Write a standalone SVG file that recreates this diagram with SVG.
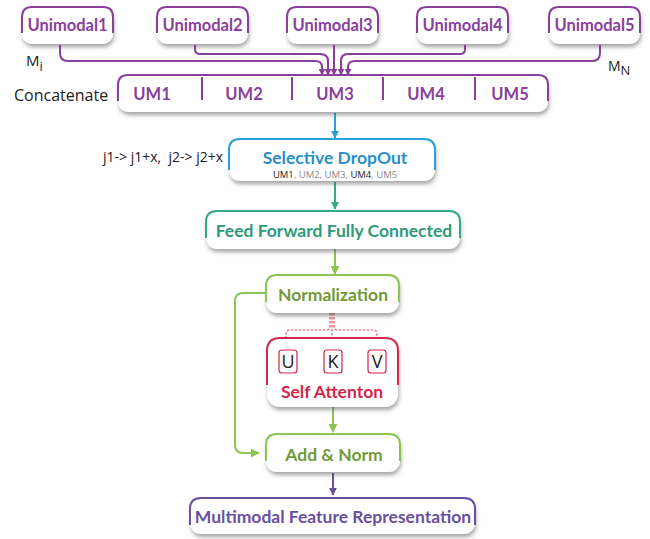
<svg xmlns="http://www.w3.org/2000/svg" width="650" height="539" viewBox="0 0 650 539">
<defs>
<filter id="sh" x="-10%" y="-20%" width="120%" height="150%">
<feDropShadow dx="1" dy="3" stdDeviation="2" flood-color="#555" flood-opacity="0.55"/>
</filter>
<marker id="aP" viewBox="0 0 10 10" refX="9" refY="5" markerWidth="7" markerHeight="7" markerUnits="userSpaceOnUse" orient="auto"><path d="M0,0 L10,5 L0,10 z" fill="#8a3f9c"/></marker>
<marker id="aB" viewBox="0 0 10 10" refX="9" refY="5" markerWidth="8" markerHeight="8" markerUnits="userSpaceOnUse" orient="auto"><path d="M0,0 L10,5 L0,10 z" fill="#2b9fd8"/></marker>
<marker id="aT" viewBox="0 0 10 10" refX="9" refY="5" markerWidth="8" markerHeight="8" markerUnits="userSpaceOnUse" orient="auto"><path d="M0,0 L10,5 L0,10 z" fill="#33a98a"/></marker>
<marker id="aG" viewBox="0 0 10 10" refX="9" refY="5" markerWidth="9" markerHeight="9" markerUnits="userSpaceOnUse" orient="auto"><path d="M0,0 L10,5 L0,10 z" fill="#8cc552"/></marker>
<marker id="aR" viewBox="0 0 10 10" refX="9" refY="5" markerWidth="6" markerHeight="6" markerUnits="userSpaceOnUse" orient="auto"><path d="M0,0 L10,5 L0,10 z" fill="#e8545e"/></marker>
<marker id="aV" viewBox="0 0 10 10" refX="9" refY="5" markerWidth="8" markerHeight="8" markerUnits="userSpaceOnUse" orient="auto"><path d="M0,0 L10,5 L0,10 z" fill="#6a4f9f"/></marker>
</defs>
<style>
.bx{fill:#fff;filter:url(#sh)}
.ol{fill:none;stroke-width:2}
.t{font-family:Lato,"Open Sans",sans-serif;font-weight:bold;text-anchor:middle}
.p{stroke:#8a3f9c}
.lbl{font-family:"Open Sans","Liberation Sans",sans-serif;fill:#222}
.c{fill:none;stroke-width:2}
</style>
<rect width="650" height="539" fill="#fff"/>

<g id="connectors">
<g class="c" stroke="#8a3f9c" marker-end="url(#aP)">
<path d="M60,45 V53 Q60,61 68,61 H315 Q322,61 322,67 V75"/>
<path d="M195,45 V49 Q195,54 200,54 H320 Q328,54 328,61 V75"/>
<path d="M334,45 V75"/>
<path d="M465,45 V49 Q465,54 460,54 H348 Q341,54 341,61 V75"/>
<path d="M600,45 V53 Q600,61 592,61 H355 Q348,61 348,67 V75"/>
</g>
<path class="c" d="M335,113 V138" stroke="#2b9fd8" marker-end="url(#aB)"/>
<path class="c" d="M335,182 V209" stroke="#33a98a" marker-end="url(#aT)"/>
<path class="c" d="M335,249 V274" stroke="#8cc552" marker-end="url(#aG)"/>
<path class="c" d="M266,293 H243 Q235,293 235,301 V445 Q235,453 243,453 H259" stroke="#8cc552" marker-end="url(#aG)"/>
<g fill="none" stroke="#e8545e" stroke-width="1.2" stroke-dasharray="2.5,1.5" marker-end="url(#aR)">
<path d="M330,313 V326 Q330,330 326,330 H290 Q286,330 286,334 V349"/>
<path d="M332,313 V349"/>
<path d="M334,313 V326 Q334,330 338,330 H373 Q377,330 377,334 V349"/>
</g>
<path class="c" d="M333,407 V432" stroke="#8cc552" marker-end="url(#aG)"/>
<path class="c" d="M333,473 V495" stroke="#6a4f9f" marker-end="url(#aV)"/>
</g>

<g id="unimodal1">
<rect class="bx" x="22" y="7" width="91" height="37" rx="10"/>
<path class="ol p" d="M22,33 V17 Q22,7 32,7 H103 Q113,7 113,17 V33"/>
<text class="t" x="67.5" y="31" font-size="16.5" fill="#8a3f9c">Unimodal1</text>
</g>
<g id="unimodal2">
<rect class="bx" x="157" y="7" width="91" height="37" rx="10"/>
<path class="ol p" d="M157,33 V17 Q157,7 167,7 H238 Q248,7 248,17 V33"/>
<text class="t" x="202.5" y="31" font-size="16.5" fill="#8a3f9c">Unimodal2</text>
</g>
<g id="unimodal3">
<rect class="bx" x="287" y="7" width="91" height="37" rx="10"/>
<path class="ol p" d="M287,33 V17 Q287,7 297,7 H368 Q378,7 378,17 V33"/>
<text class="t" x="332.5" y="31" font-size="16.5" fill="#8a3f9c">Unimodal3</text>
</g>
<g id="unimodal4">
<rect class="bx" x="417" y="7" width="91" height="37" rx="10"/>
<path class="ol p" d="M417,33 V17 Q417,7 427,7 H498 Q508,7 508,17 V33"/>
<text class="t" x="462.5" y="31" font-size="16.5" fill="#8a3f9c">Unimodal4</text>
</g>
<g id="unimodal5">
<rect class="bx" x="549" y="7" width="91" height="37" rx="10"/>
<path class="ol p" d="M549,33 V17 Q549,7 559,7 H630 Q640,7 640,17 V33"/>
<text class="t" x="594.5" y="31" font-size="16.5" fill="#8a3f9c">Unimodal5</text>
</g>

<text class="lbl" x="26" y="66" font-size="15">M<tspan font-size="13" dy="5">i</tspan></text>
<text class="lbl" x="608" y="71" font-size="14">M<tspan font-size="13" dy="4">N</tspan></text>
<text class="lbl" x="14" y="101" font-size="16">Concatenate</text>

<g id="concatenate">
<rect class="bx" x="118" y="75" width="430" height="37" rx="10"/>
<path class="ol p" d="M118,101 V85 Q118,75 128,75 H538 Q548,75 548,85 V101"/>
<g stroke="#8a3f9c" stroke-width="2">
<line x1="202" y1="77" x2="202" y2="100"/>
<line x1="292" y1="77" x2="292" y2="100"/>
<line x1="383" y1="77" x2="383" y2="100"/>
<line x1="475" y1="77" x2="475" y2="100"/>
</g>
<g class="t" font-size="16.5" fill="#8a3f9c">
<text x="152" y="100">UM1</text>
<text x="244" y="100">UM2</text>
<text x="335" y="100">UM3</text>
<text x="426" y="100">UM4</text>
<text x="510" y="100">UM5</text>
</g>
</g>

<text class="lbl" x="103" y="162" font-size="14" xml:space="preserve">j1-&gt; j1+x,  j2-&gt; j2+x</text>

<g id="selective-dropout">
<rect class="bx" x="229" y="139" width="206" height="42" rx="11"/>
<path class="ol" stroke="#2b9fd8" d="M229,170 V150 Q229,139 240,139 H424 Q435,139 435,150 V170"/>
<text class="t" x="335" y="164" font-size="17.5" fill="#2b8fc8">Selective DropOut</text>
<text x="335" y="178" font-size="9.5" font-family="'Open Sans',sans-serif" text-anchor="middle" fill="#888"><tspan fill="#222">UM1</tspan>, UM2, UM3, <tspan fill="#222">UM4</tspan>, UM5</text>
</g>

<g id="feed-forward">
<rect class="bx" x="206" y="211" width="254" height="38" rx="11"/>
<path class="ol" stroke="#33a98a" d="M206,238 V222 Q206,211 217,211 H449 Q460,211 460,222 V238"/>
<text class="t" x="334" y="237" font-size="17.5" fill="#2e9a7a">Feed Forward Fully Connected</text>
</g>

<g id="normalization">
<rect class="bx" x="266" y="275" width="133" height="38" rx="11"/>
<path class="ol" stroke="#8cc552" d="M266,302 V286 Q266,275 277,275 H388 Q399,275 399,286 V302"/>
<text class="t" x="333" y="301" font-size="17.5" fill="#6f9a38">Normalization</text>
</g>

<g id="self-attention">
<rect class="bx" x="267" y="338" width="131" height="69" rx="13"/>
<path class="ol" stroke="#d2264b" d="M267,385 V351 Q267,338 280,338 H385 Q398,338 398,351 V385"/>
<g fill="#fff" stroke="#d2264b" stroke-width="1.2">
<rect x="279" y="350" width="18" height="23" rx="3"/>
<rect x="324" y="350" width="18" height="23" rx="3"/>
<rect x="368" y="350" width="18" height="23" rx="3"/>
</g>
<g class="lbl" font-size="18" text-anchor="middle">
<text x="288" y="368">U</text>
<text x="333" y="368">K</text>
<text x="377" y="368">V</text>
</g>
<text class="t" x="332" y="398" font-size="17.5" fill="#d2264b">Self Attenton</text>
</g>

<g id="add-norm">
<rect class="bx" x="266" y="434" width="134" height="38" rx="11"/>
<path class="ol" stroke="#8cc552" d="M266,461 V445 Q266,434 277,434 H389 Q400,434 400,445 V461"/>
<text class="t" x="334" y="461" font-size="17.5" fill="#6f9a38">Add &amp; Norm</text>
</g>

<g id="multimodal">
<rect class="bx" x="190" y="498" width="285" height="36" rx="11"/>
<path class="ol" stroke="#6a4f9f" d="M190,525 V509 Q190,498 201,498 H464 Q475,498 475,509 V525"/>
<text class="t" x="333" y="523" font-size="17.5" fill="#6a4f9f">Multimodal Feature Representation</text>
</g>
</svg>
